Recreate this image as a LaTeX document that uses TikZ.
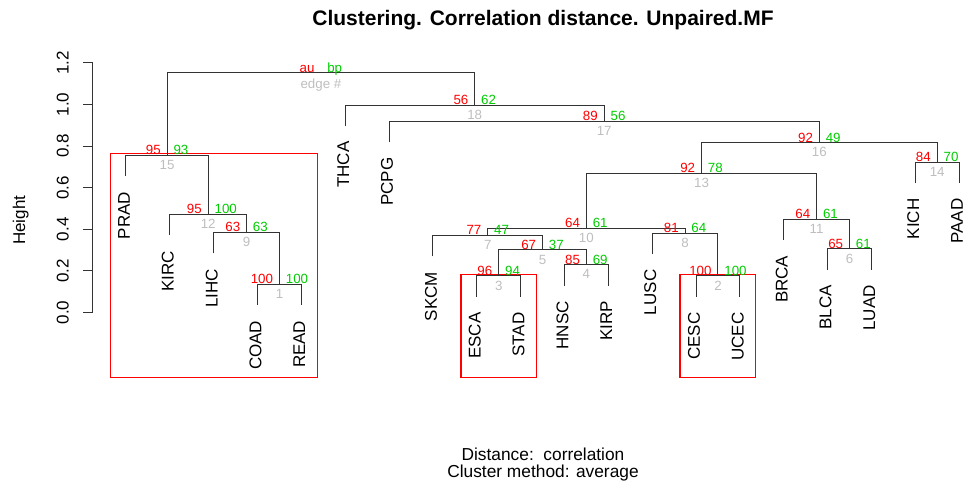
\documentclass[tikz,border=0pt]{standalone}
\usepackage{fontspec}
\setmainfont{Liberation Sans}
\usetikzlibrary{calc}

\definecolor{green3}{RGB}{0,205,0}
\definecolor{grey}{RGB}{190,190,190}
\definecolor{rectred}{RGB}{255,0,0}

\begin{document}
\begin{tikzpicture}[
    x=32.89pt, y=156.2pt,
    tree/.style={draw=black!80,line width=0.75pt},
    clust/.style={draw=rectred,line width=1pt},
    leaflab/.style={rotate=90,anchor=east,inner sep=0pt,font=\fontsize{12.75}{15}\selectfont},
    ticklab/.style={rotate=90,anchor=south,inner sep=0pt,font=\fontsize{12.75}{15}\selectfont},
    au/.style={anchor=base east,inner sep=0pt,text=red,font=\fontsize{10}{12}\selectfont},
    bp/.style={anchor=base west,inner sep=0pt,text=green3,font=\fontsize{10}{12}\selectfont},
    edgenum/.style={anchor=north,inner sep=0pt,text=grey,font=\fontsize{10}{12}\selectfont},
  ]

  \useasboundingbox (-1.8734,-0.8464) rectangle (20.134,1.5012);

  \node[font=\bfseries\fontsize{15.75}{18}\selectfont,anchor=base] (title) at (10.51,1.378)
    {Clustering. Correlation distance. Unpaired.MF};

  % y axis
  \draw[tree] (0.2406,0) -- (0.2406,1.2);
  \foreach \k/\v in {0/0.0,1/0.2,2/0.4,3/0.6,4/0.8,5/1.0,6/1.2}
  {
    \coordinate (ax-\k) at (0.2406,\v);
    \draw[tree] (ax-\k) -- ++(-7.5pt,0);
    \node[ticklab] (tick-\k) at ([xshift=-17.8pt]ax-\k) {\v};
  }
  \node[rotate=90,anchor=base,font=\fontsize{12.75}{15}\selectfont] (ylab) at (-1.303,0.444) {Height};

  % leaves
  \foreach \i/\name/\h in {1/PRAD/0.655,2/KIRC/0.372,3/LIHC/0.284,4/COAD/0.036,
      5/READ/0.036,6/THCA/0.896,7/PCPG/0.819,8/SKCM/0.270,9/ESCA/0.076,10/STAD/0.076,
      11/HNSC/0.130,12/KIRP/0.130,13/LUSC/0.281,14/CESC/0.076,15/UCEC/0.076,
      16/BRCA/0.348,17/BLCA/0.206,18/LUAD/0.206,19/KICH/0.622,20/PAAD/0.622}
  {
    \coordinate (t-\i) at (\i,\h);
    \node[leaflab] (lab-\i) at ([xshift=-1.5pt,yshift=-11.5pt]t-\i) {\name};
  }

  % clusters
  \foreach \c/\a/\b/\top in {1/0.651/5.363/0.765,2/8.640/10.357/0.182,3/13.634/15.360/0.182}
  {
    \coordinate (c-\c-sw) at (\a,-0.310);
    \coordinate (c-\c-ne) at (\b,\top);
    \draw[clust] (c-\c-sw) -- (c-\c-sw -| c-\c-ne) -- (c-\c-ne) -- (c-\c-sw |- c-\c-ne) -- cycle;
  }

  % merges
  \foreach \e/\x/\h in {1/4.5/0.136,2/14.5/0.176,3/9.5/0.176,4/11.5/0.230,5/10.5/0.301,
      6/17.5/0.306,7/9.25/0.370,8/13.75/0.381,9/3.75/0.384,10/11.5/0.405,11/16.75/0.448,
      12/2.875/0.472,13/14.125/0.669,14/19.5/0.722,15/1.9375/0.755,16/16.8125/0.816,
      17/11.90625/0.919,18/8.953125/0.996,19/5.4453125/1.152}
    \coordinate (m-\e) at (\x,\h);

  \foreach \e/\l/\r in {1/t-4/t-5,2/t-14/t-15,3/t-9/t-10,4/t-11/t-12,5/m-3/m-4,
      6/t-17/t-18,7/t-8/m-5,8/t-13/m-2,9/t-3/m-1,10/m-7/m-8,11/t-16/m-6,12/t-2/m-9,
      13/m-10/m-11,14/t-19/t-20,15/t-1/m-12,16/m-13/m-14,17/t-7/m-16,18/t-6/m-17,
      19/m-15/m-18}
    \draw[tree] (\l) |- (m-\e) -| (\r);

  % au / bp / edge numbers
  \foreach \e/\a/\b in {1/100/100,2/100/100,3/96/94,4/85/69,5/67/37,6/65/61,7/77/47,
      8/81/64,9/63/63,10/64/61,11/64/61,12/95/100,13/92/78,14/84/70,15/95/93,
      16/92/49,17/89/56,18/56/62}
  {
    \node[au] (au-\e) at ([xshift=-4.6pt,yshift=0.5pt]m-\e) {\a};
    \node[bp] (bp-\e) at ([xshift=4.6pt,yshift=0.5pt]m-\e) {\b};
    \node[edgenum] (en-\e) at ([yshift=-3.5pt]m-\e) {\e};
  }
  \node[au] (au-19) at ([xshift=-4.6pt,yshift=0.5pt]m-19) {au};
  \node[bp] (bp-19) at ([xshift=4.6pt,yshift=0.5pt]m-19) {bp};
  \node[edgenum] (en-19) at ([yshift=-4.5pt]m-19) {edge \#};

  \node[anchor=base,font=\fontsize{13}{15}\selectfont] (dist) at (10.51,-0.712) {Distance:\ \ correlation};
  \node[anchor=base,font=\fontsize{13}{15}\selectfont] (meth) at (10.51,-0.792) {Cluster method: average};

\end{tikzpicture}
\end{document}
